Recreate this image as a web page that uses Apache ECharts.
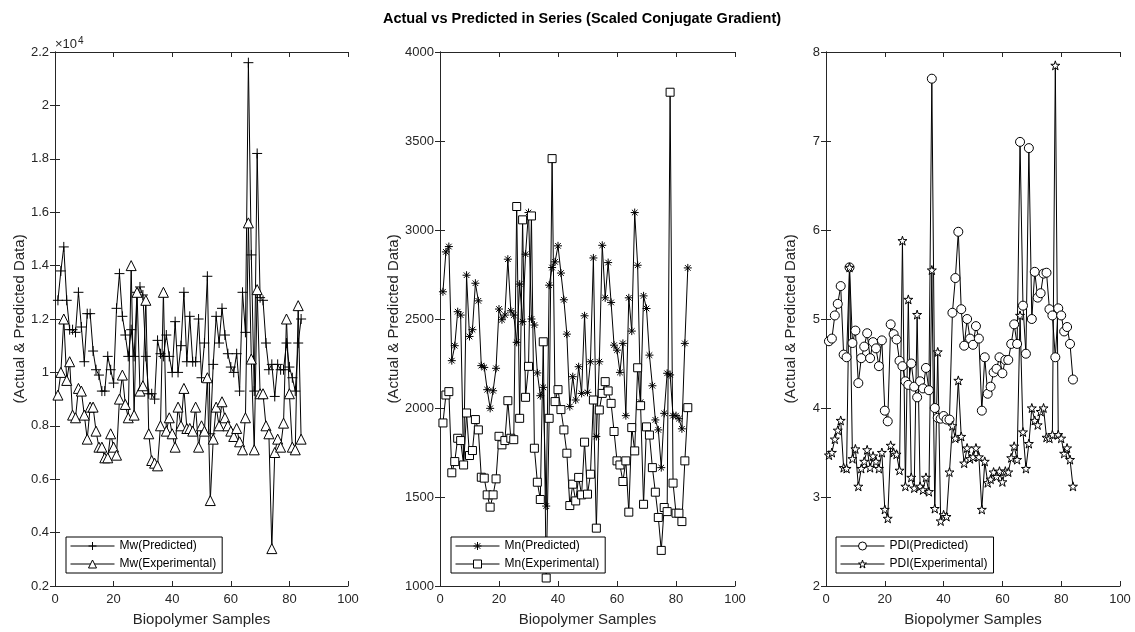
<!DOCTYPE html>
<html>
<head>
<meta charset="utf-8">
<script src="https://cdn.jsdelivr.net/npm/echarts@6/dist/echarts.min.js"></script>
<style>
html,body{margin:0;padding:0;background:#fff;}
#chart{width:1135px;height:632px;}
</style>
</head>
<body>
<div id="chart"></div>
<script>
// ---------------- DATA ----------------
const chartTitle = 'Actual vs Predicted in Series (Scaled Conjugate Gradient)';
const xAxisName = 'Biopolymer Samples';
const yAxisName = '(Actual & Predicted Data)';
const xTicks = [0, 20, 40, 60, 80, 100];
const mwTicks = [0.2, 0.4, 0.6, 0.8, 1, 1.2, 1.4, 1.6, 1.8, 2, 2.2]; // x10^4
const mnTicks = [1000, 1500, 2000, 2500, 3000, 3500, 4000];
const pdiTicks = [2, 3, 4, 5, 6, 7, 8];

// Mw values in units of 10^4
const mwPredicted = [1.27,1.38,1.47,1.27,1.16,1.16,1.15,1.30,1.17,1.04,1.22,1.22,1.08,1.01,0.99,0.93,0.93,1.06,1.01,0.96,
  1.24,1.37,1.21,1.14,1.06,1.16,1.06,1.30,1.32,1.29,1.06,0.92,0.92,0.90,1.12,1.07,1.06,1.14,1.06,1.00,
  1.19,1.00,1.10,1.30,1.04,1.21,1.04,1.04,1.20,0.98,1.11,1.36,0.77,1.03,1.21,1.11,1.24,1.14,1.07,1.02,
  1.00,1.07,0.93,1.30,1.15,2.16,1.44,0.93,1.82,1.28,1.27,1.11,1.01,1.03,0.91,1.03,1.01,1.01,1.11,1.02,
  0.98,0.93,1.11,1.20];
const mwExperimental = [0.915,1.00,1.20,0.97,1.04,0.84,0.83,0.94,0.93,0.84,0.75,0.87,0.87,0.78,0.72,0.72,0.68,0.68,0.77,0.72,
  0.69,0.90,0.99,0.88,0.83,1.40,0.84,1.30,0.93,0.95,1.27,0.77,0.67,0.66,0.65,0.80,1.30,0.78,0.83,0.77,
  0.72,0.87,0.80,0.94,0.79,0.79,0.78,0.87,0.72,0.80,0.78,0.98,0.52,0.75,0.87,0.80,0.89,0.83,0.80,0.78,
  0.76,0.79,0.74,0.71,0.83,1.56,1.05,0.71,1.31,0.92,0.92,0.80,0.77,0.34,0.70,0.75,0.72,0.81,1.20,0.92,
  0.72,0.71,1.25,0.75];
const mnPredicted = [2653,2877,2907,2266,2350,2541,2522,1680,2746,2402,2440,2701,2602,2238,2228,2103,1998,2097,2223,2556,
  2496,2522,2836,2546,2522,2369,2696,2485,2864,3098,2500,2466,2197,2069,2116,1449,2690,2789,2821,2911,
  2758,2608,2415,2008,2176,2045,2232,2082,2518,2088,2260,2843,1840,2260,2914,2619,2817,2593,2353,2325,
  2200,2363,1957,2619,2432,3098,2802,2033,2630,2559,2297,2125,1933,1877,1665,1970,2195,2186,1957,1957,
  1940,1883,2363,2787];
const mnExperimental = [1916,2073,2092,1636,1699,1830,1817,1680,1972,1733,1761,1935,1877,1611,1606,1512,1443,1512,1602,1841,
  1793,1817,2041,1830,1822,3132,1942,3057,2060,2234,3079,1774,1583,1486,2372,1045,1942,3401,2036,2103,
  1991,1877,1746,1452,1572,1478,1610,1512,1808,1516,1628,2045,1325,1989,2082,2148,2096,2026,1868,1703,
  1680,1587,1703,1415,1890,1759,2226,2013,1459,1894,1848,1665,1527,1385,1200,1441,1418,3774,1578,1409,
  1409,1362,1703,2002];
const pdiPredicted = [4.75,4.78,5.04,5.17,5.37,4.60,4.57,5.58,4.73,4.87,4.28,4.56,4.69,4.84,4.56,4.74,4.67,4.47,4.76,3.97,
  3.85,4.94,4.83,4.77,4.53,4.47,4.30,4.26,4.50,4.24,4.12,4.30,4.22,4.45,4.20,7.70,4.00,3.89,3.88,3.91,
  3.87,3.87,5.07,5.46,5.98,5.11,4.70,5.00,4.78,4.71,4.92,4.78,3.97,4.57,4.16,4.24,4.40,4.44,4.57,4.39,
  4.54,4.54,4.72,4.94,4.72,6.99,5.15,4.61,6.92,5.00,5.53,5.24,5.29,5.51,5.52,5.11,5.04,4.57,5.12,5.04,
  4.86,4.91,4.72,4.32];
const pdiExperimental = [3.47,3.50,3.65,3.75,3.86,3.33,3.32,5.58,3.43,3.54,3.12,3.32,3.40,3.53,3.33,3.46,3.40,3.32,3.50,2.86,
  2.76,3.58,3.50,3.48,3.30,5.88,3.12,5.22,3.22,3.10,5.05,3.12,3.08,3.22,3.06,5.55,2.87,4.63,2.73,2.80,
  2.78,3.28,3.80,3.66,4.31,3.68,3.38,3.55,3.43,3.45,3.55,3.45,2.86,3.40,3.16,3.20,3.28,3.23,3.29,3.17,
  3.29,3.28,3.44,3.57,3.42,5.04,3.73,3.32,3.60,4.00,3.86,3.81,3.96,4.00,3.67,3.66,3.70,7.85,3.70,3.66,
  3.49,3.55,3.42,3.12];
const samples = mwPredicted.map((_, k) => k + 1);

// ---------------- CHART ----------------
const chart = echarts.init(document.getElementById('chart'), null, {renderer: 'canvas'});
const AX = '#262626';
const FONT = 'Liberation Sans, Arial, Helvetica, sans-serif';

const SYM = {
  plus: 'path://M0,-10L0,10M-10,0L10,0',
  star: 'path://M0,-10L0,10M-10,0L10,0M-7,-7L7,7M-7,7L7,-7',
  penta: 'path://M0,-100L22.5,-30.9L95.1,-30.9L36.3,11.8L58.8,80.9L0,38.2L-58.8,80.9L-36.3,11.8L-95.1,-30.9L-22.5,-30.9Z'
};

const grids = [
  {left: 55, top: 52, width: 293, height: 536},
  {left: 440, top: 52, width: 295, height: 536},
  {left: 826, top: 52, width: 294, height: 536}
];
const yTicksList = [mwTicks, mnTicks, pdiTicks];

const xAxes = [], yAxes = [];
grids.forEach((g, gi) => {
  xAxes.push({
    gridIndex: gi, type: 'value', position: 'bottom',
    min: xTicks[0], max: xTicks[xTicks.length - 1], interval: xTicks[1] - xTicks[0],
    axisLine: {lineStyle: {color: AX, width: 1}},
    axisTick: {inside: true, length: 5, lineStyle: {color: AX}},
    axisLabel: {color: AX, fontSize: 13, fontFamily: FONT, margin: 7},
    splitLine: {show: false},
    name: xAxisName, nameLocation: 'middle', nameGap: 26,
    nameTextStyle: {color: AX, fontSize: 15, fontFamily: FONT}
  });
  xAxes.push({
    gridIndex: gi, type: 'value', position: 'top',
    min: xTicks[0], max: xTicks[xTicks.length - 1], interval: xTicks[1] - xTicks[0],
    axisLine: {lineStyle: {color: AX, width: 1}},
    axisTick: {inside: true, length: 5, lineStyle: {color: AX}},
    axisLabel: {show: false}, splitLine: {show: false}
  });
  const yt = yTicksList[gi];
  const yi = +(yt[1] - yt[0]).toFixed(6);
  yAxes.push({
    gridIndex: gi, type: 'value', position: 'left',
    min: yt[0], max: yt[yt.length - 1], interval: yi,
    axisLine: {show: true, lineStyle: {color: AX, width: 1}},
    axisTick: {show: true, inside: true, length: 5, lineStyle: {color: AX}},
    axisLabel: {color: AX, fontSize: 13, fontFamily: FONT, margin: 6,
      formatter: v => String(+v.toFixed(2))},
    splitLine: {show: false},
    name: yAxisName, nameLocation: 'middle', nameGap: 28, nameRotate: 90,
    nameTextStyle: {color: AX, fontSize: 15, fontFamily: FONT}
  });
  yAxes.push({
    gridIndex: gi, type: 'value', position: 'right',
    min: yt[0], max: yt[yt.length - 1], interval: yi,
    axisLine: {show: true, lineStyle: {color: AX, width: 1}},
    axisTick: {show: true, inside: true, length: 5, lineStyle: {color: AX}},
    axisLabel: {show: false}, splitLine: {show: false}
  });
});

function mk(name, arr, gi, symbol, size) {
  return {
    name: name, type: 'line',
    xAxisIndex: gi * 2, yAxisIndex: gi * 2,
    data: samples.map((x, k) => [x, arr[k]]),
    symbol: symbol, symbolSize: size, showAllSymbol: true,
    lineStyle: {color: '#000', width: 1},
    itemStyle: {color: '#fff', borderColor: '#000', borderWidth: 1},
    emphasis: {disabled: true}
  };
}

const series = [
  mk('Mw(Predicted)', mwPredicted, 0, SYM.plus, 10),
  mk('Mw(Experimental)', mwExperimental, 0, 'triangle', 10),
  mk('Mn(Predicted)', mnPredicted, 1, SYM.star, 8),
  mk('Mn(Experimental)', mnExperimental, 1, 'rect', 8),
  mk('PDI(Predicted)', pdiPredicted, 2, 'circle', 9),
  mk('PDI(Experimental)', pdiExperimental, 2, SYM.penta, 9)
];

function legendFor(left, names) {
  return {
    data: names, left: left, top: 537, orient: 'vertical',
    itemWidth: 44, itemHeight: 10, itemGap: 6,
    padding: [3, 6, 3, 4],
    borderColor: '#000', borderWidth: 1, backgroundColor: '#fff',
    itemStyle: {color: '#fff', borderColor: '#000', borderWidth: 1},
    lineStyle: {color: '#000', width: 1},
    textStyle: {color: '#000', fontSize: 12, fontFamily: FONT},
    selectedMode: false
  };
}

chart.setOption({
  animation: false,
  backgroundColor: '#fff',
  grid: grids,
  xAxis: xAxes,
  yAxis: yAxes,
  legend: [
    legendFor(66, ['Mw(Predicted)', 'Mw(Experimental)']),
    legendFor(451, ['Mn(Predicted)', 'Mn(Experimental)']),
    legendFor(836, ['PDI(Predicted)', 'PDI(Experimental)'])
  ],
  graphic: [
    {type: 'text', left: 383, top: 11,
      style: {text: chartTitle, fontSize: 14.5, fontWeight: 'bold', fontFamily: FONT, fill: '#000'}},
    {type: 'text', left: 55, top: 36,
      style: {text: '×10{s|4}', fontSize: 13, fontFamily: FONT, fill: AX,
        rich: {s: {fontSize: 10, verticalAlign: 'top', padding: [0, 0, 7, 1], fill: AX}}}}
  ],
  series: series
});
</script>
</body>
</html>
